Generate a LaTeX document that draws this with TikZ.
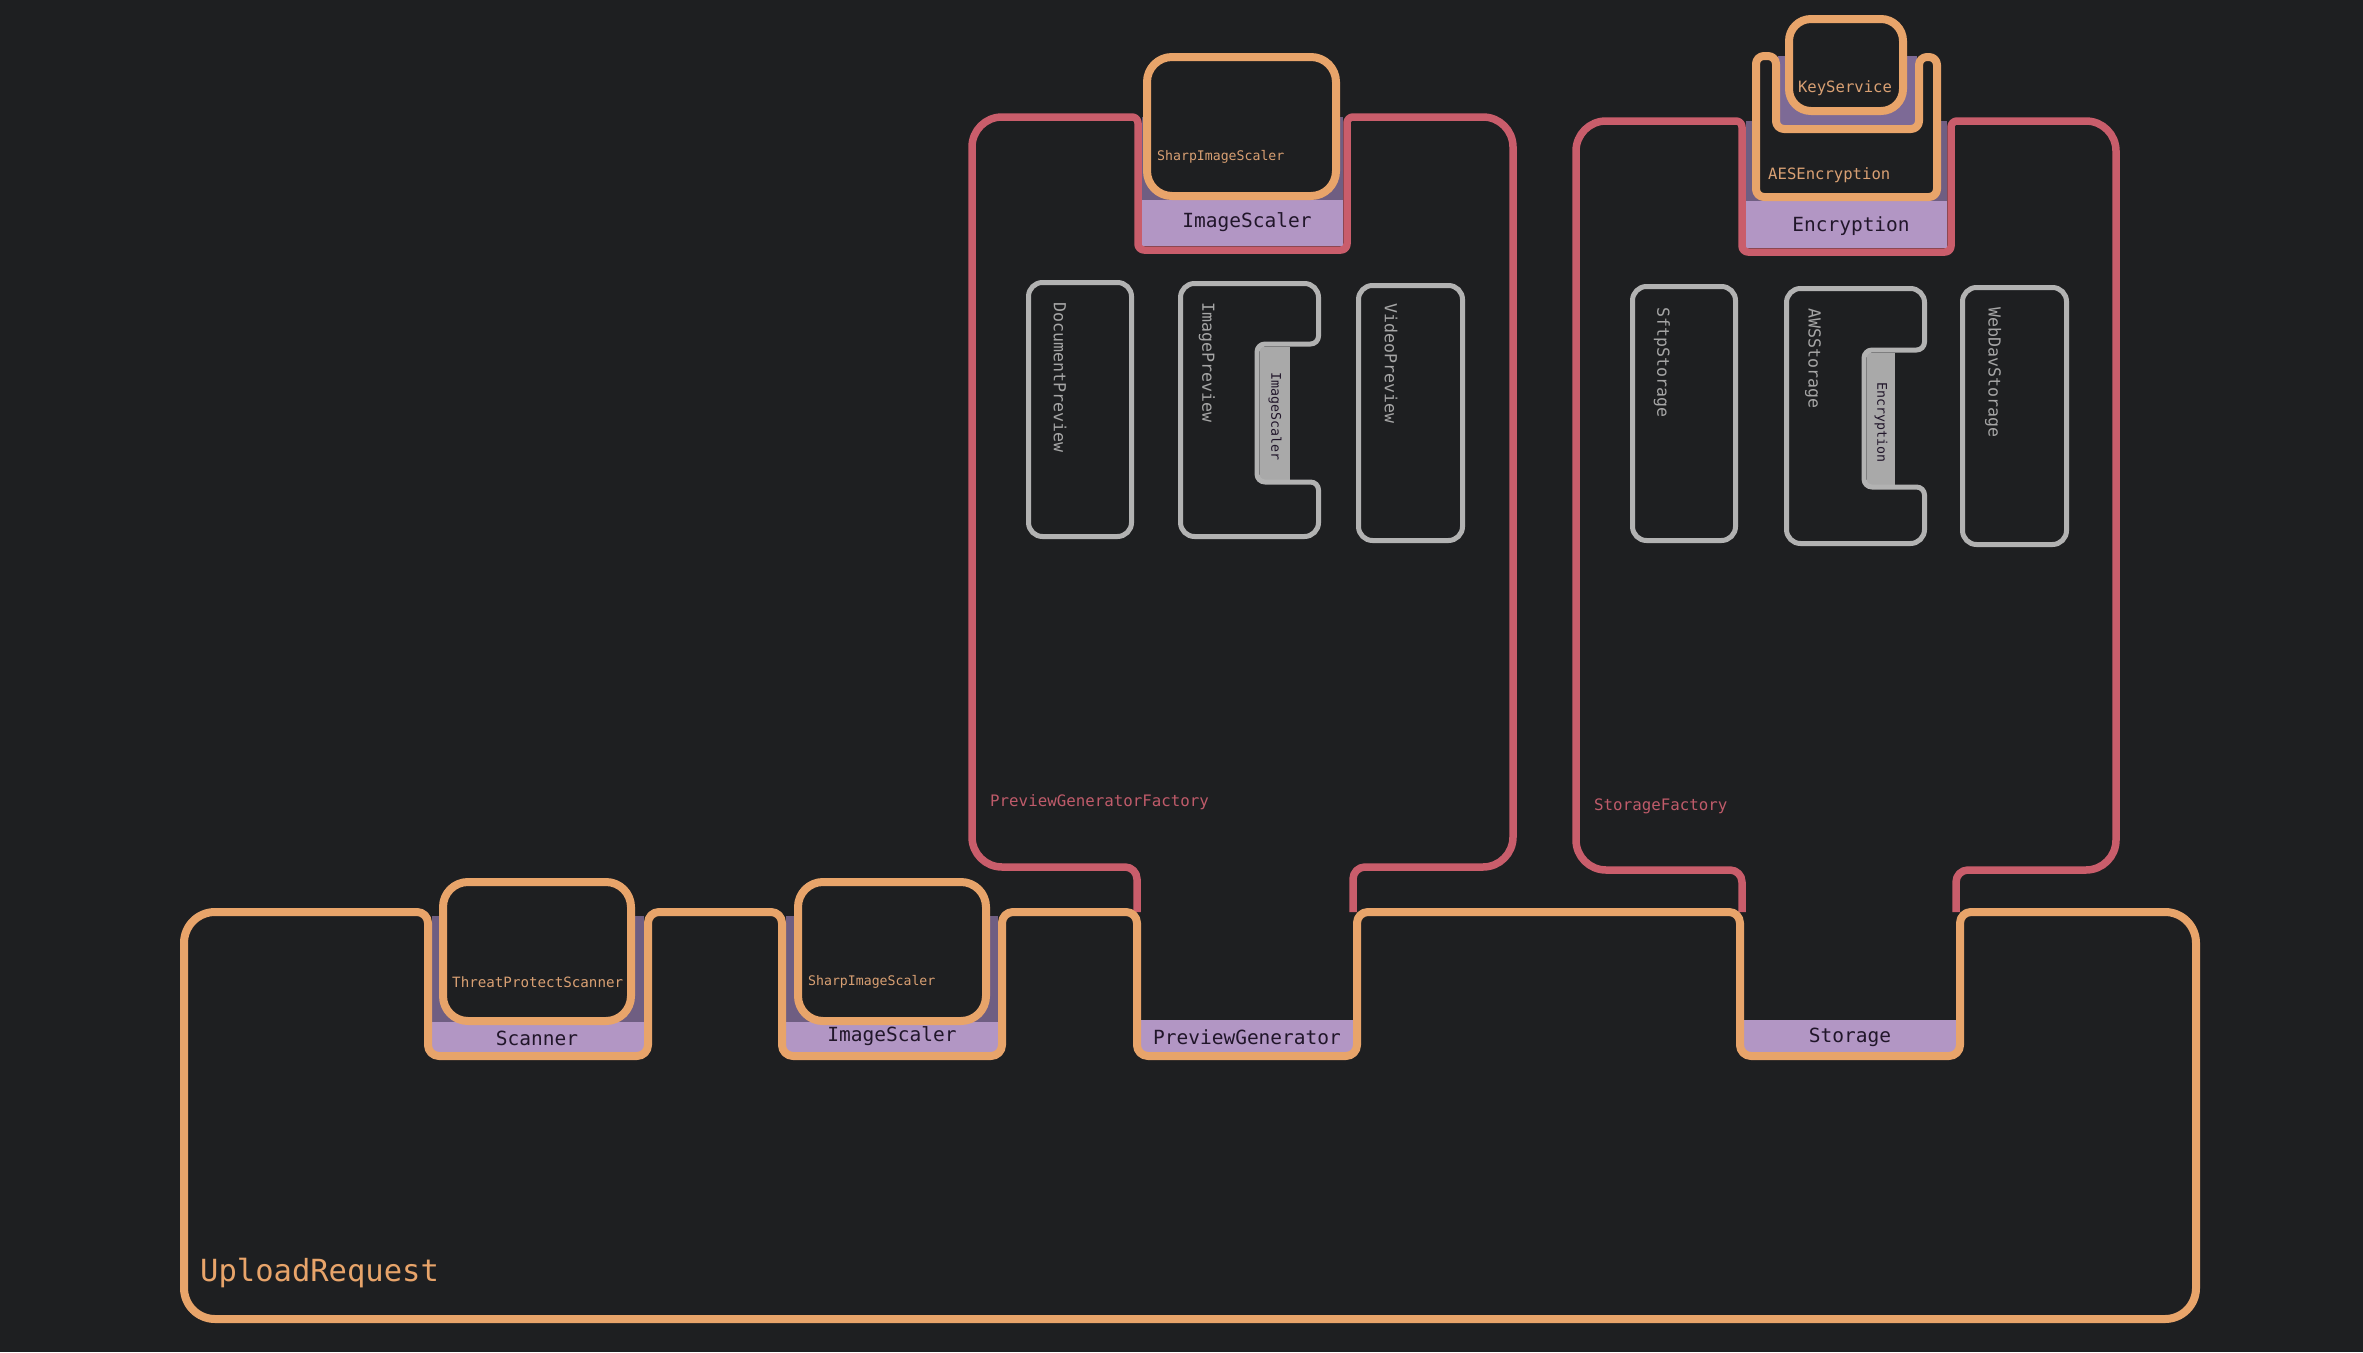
\documentclass[tikz,border=0pt]{standalone}
\usepackage{fontspec}
\newfontfamily\diamono{DejaVu Sans Mono}
\newcommand\monofs[1]{\diamono\fontsize{#1}{#1}\selectfont}
\definecolor{bg}{HTML}{1E1F21}
\definecolor{orng}{HTML}{E8A46A}
\definecolor{orngtxt}{HTML}{D9A073}
\definecolor{redf}{HTML}{C95D6B}
\definecolor{redtxt}{HTML}{BF5B6A}
\definecolor{purp}{HTML}{B296C4}
\definecolor{purpdim}{HTML}{6F5E82}
\definecolor{purpmid}{HTML}{7D6A96}
\definecolor{grayln}{HTML}{B2B2B2}
\definecolor{graytxt}{HTML}{A6A6A6}
\definecolor{grayband}{HTML}{A9A9A9}
\definecolor{darktxt}{HTML}{21162A}
\begin{document}
\begin{tikzpicture}[x=1pt,y=-1pt,
  orangeline/.style={draw=orng, line width=8pt, line join=round},
  redline/.style={draw=redf, line width=7.5pt, line join=round},
  grayline/.style={draw=grayln, line width=5pt, line join=round},
  implbox/.style={orangeline, fill=bg, rounded corners=25pt},
  bandlbl/.style={font=\monofs{19.5}, text=darktxt, inner sep=0pt},
  impltxt/.style={font=\monofs{13.2}, text=orngtxt, inner sep=0pt, anchor=west},
  impltxtb/.style={font=\monofs{15.6}, text=orngtxt, inner sep=0pt},
  factxt/.style={font=\monofs{15.8}, text=redtxt, inner sep=0pt, anchor=west},
  vtxt/.style={font=\monofs{16.6}, text=graytxt, inner sep=0pt, rotate=-90, anchor=west},
  vbandtxt/.style={font=\monofs{13.3}, text=darktxt, inner sep=0pt, rotate=-90, anchor=west},
  graybox/.style={grayline, rounded corners=14pt}
]
\useasboundingbox (0,0) rectangle (2363,1352);
\fill[bg] (0,0) rectangle (2363,1352);

% ================= PreviewGeneratorFactory =================
\fill[purp] (1142,117) rectangle (1343,246);
\fill[purpdim] (1142,117) rectangle (1343,200);
\draw[redline, line cap=butt]
  (1137,912) [rounded corners=12pt] -- (1137,867) -- (1050,867)
  [rounded corners=30pt] -- (972,867) -- (972,117) -- (1060,117)
  [rounded corners=6pt] -- (1138,117) -- (1138,250) -- (1347,250) -- (1347,117) -- (1430,117)
  [rounded corners=30pt] -- (1513,117) -- (1513,867) -- (1430,867)
  [rounded corners=12pt] -- (1353,867) -- (1353,912);
\draw[implbox] (1147,57) rectangle (1336,196);
\node[impltxt] (sharpTop) at (1157,157) {SharpImageScaler};
\node[bandlbl] (scalerTop) at (1247,222) {ImageScaler};
\node[factxt] (pgfLbl) at (990,802) {PreviewGeneratorFactory};

% preview boxes
\draw[graybox] (1028.5,282.5) rectangle (1131.5,536.5);
\node[vtxt] (docPrev) at (1060,302) {DocumentPreview};
\fill[grayband] (1259.5,346.5) rectangle (1290,479.5);
\draw[grayline]
  (1180.5,400) [rounded corners=14pt] -- (1180.5,283.5) -- (1318.5,283.5) -- (1318.5,320)
  [rounded corners=8pt] -- (1318.5,344) -- (1257,344) -- (1257,482) -- (1318.5,482) -- (1318.5,510)
  [rounded corners=14pt] -- (1318.5,536.5) -- (1180.5,536.5) -- cycle;
\node[vtxt] (imgPrev) at (1207,302) {ImagePreview};
\node[vbandtxt] (imgPrevScaler) at (1275,372) {ImageScaler};
\draw[graybox] (1358.5,285.5) rectangle (1462.5,540.5);
\node[vtxt] (vidPrev) at (1391,303) {VideoPreview};

% ================= StorageFactory =================
\fill[purp] (1746,121) rectangle (1947,248);
\fill[purpdim] (1746,121) rectangle (1947,201);
\draw[redline, line cap=butt]
  (1742,912) [rounded corners=12pt] -- (1742,870) -- (1660,870)
  [rounded corners=30pt] -- (1576,870) -- (1576,121) -- (1660,121)
  [rounded corners=6pt] -- (1742,121) -- (1742,252) -- (1951,252) -- (1951,121) -- (2030,121)
  [rounded corners=30pt] -- (2116,121) -- (2116,870) -- (2030,870)
  [rounded corners=12pt] -- (1956,870) -- (1956,912);
\fill[purpmid] (1778,56) rectangle (1917,127);
\draw[orangeline, fill=bg]
  (1756,150) [rounded corners=8pt] -- (1756,56) -- (1776,56) -- (1776,129) -- (1919,129)
  -- (1919,57) -- (1937,57) -- (1937,197) -- (1756,197) -- cycle;
\draw[orangeline, fill=bg, rounded corners=22pt] (1789,19) rectangle (1903,111);
\node[impltxtb] (keySvc) at (1845,88) {KeyService};
\node[impltxtb, anchor=west] (aesEnc) at (1768,175) {AESEncryption};
\node[bandlbl] (encTop) at (1851,226) {Encryption};
\node[factxt] (sfLbl) at (1594,806) {StorageFactory};

% storage boxes
\draw[graybox] (1632.5,286.5) rectangle (1735.5,540.5);
\node[vtxt] (sftp) at (1662,307) {SftpStorage};
\fill[grayband] (1866.5,352.5) rectangle (1895,484.5);
\draw[grayline]
  (1786.5,400) [rounded corners=14pt] -- (1786.5,288.5) -- (1924.5,288.5) -- (1924.5,325)
  [rounded corners=8pt] -- (1924.5,350) -- (1864,350) -- (1864,487) -- (1924.5,487) -- (1924.5,515)
  [rounded corners=14pt] -- (1924.5,543.5) -- (1786.5,543.5) -- cycle;
\node[vtxt] (aws) at (1813,308) {AWSStorage};
\node[vbandtxt] (awsEnc) at (1881,382) {Encryption};
\draw[graybox] (1962.5,287.5) rectangle (2066.5,544.5);
\node[vtxt] (webdav) at (1993,307) {WebDavStorage};

% ================= UploadRequest =================
\fill[purp] (432,1020) rectangle (644,1052);
\fill[purpdim] (432,916) rectangle (644,1022);
\fill[purp] (786,1020) rectangle (998,1052);
\fill[purpdim] (786,916) rectangle (998,1022);
\fill[purp] (1141,1020) rectangle (1353,1052);
\fill[purp] (1744,1020) rectangle (1956,1052);
\draw[orangeline]
  (184,1100) [rounded corners=31pt] -- (184,912) -- (300,912)
  [rounded corners=11pt] -- (428,912) -- (428,1056) -- (648,1056) -- (648,912)
  -- (782,912) -- (782,1056) -- (1002,1056) -- (1002,912)
  -- (1137,912) -- (1137,1056) -- (1357,1056) -- (1357,912)
  -- (1740,912) -- (1740,1056) -- (1960,1056) -- (1960,912) -- (2100,912)
  [rounded corners=31pt] -- (2196,912) -- (2196,1319) -- (184,1319) -- cycle;
\draw[implbox] (443,882) rectangle (631,1021);
\node[impltxt, font=\monofs{14.2}] (tps) at (452,982) {ThreatProtectScanner};
\node[bandlbl] (scanner) at (537,1038) {Scanner};
\draw[implbox] (798,882) rectangle (986,1021);
\node[impltxt] (sharpLow) at (808,982) {SharpImageScaler};
\node[bandlbl] (scalerLow) at (892,1036) {ImageScaler};
\node[bandlbl] (prevGen) at (1247,1037) {PreviewGenerator};
\node[bandlbl] (storage) at (1850,1037) {Storage};
\node[font=\monofs{30.5}, text=orng, inner sep=0pt, anchor=west] (upload) at (200,1273) {UploadRequest};
\end{tikzpicture}
\end{document}
